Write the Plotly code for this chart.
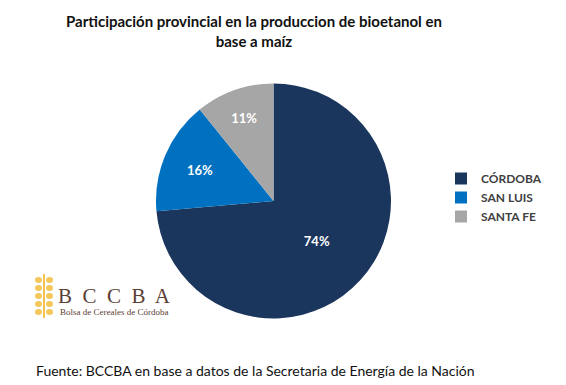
import plotly.graph_objects as go

provinces = ["CÓRDOBA", "SAN LUIS", "SANTA FE"]
shares = [73.6, 15.6, 10.8]
colors = ["#1B365D", "#0070C0", "#A6A6A6"]

title_text = "<b>Participación provincial en la produccion de bioetanol en<br>base a maíz</b>"
source_text = "Fuente: BCCBA en base a datos de la Secretaria de Energía de la Nación"

W, H = 566, 385
cx, cy, r = 273.5, 201, 117.5

fig = go.Figure(go.Pie(
    labels=provinces,
    values=shares,
    sort=False,
    direction="clockwise",
    rotation=0,
    marker=dict(colors=colors, line=dict(width=0)),
    texttemplate="%{percent:.0%}",
    textposition="inside",
    insidetextfont=dict(color="white", size=13, family="Lato", weight="bold"),
    insidetextorientation="horizontal",
    hoverinfo="label+percent",
    domain=dict(x=[(cx - r) / W, (cx + r) / W], y=[1 - (cy + r) / H, 1 - (cy - r) / H]),
))

fig.update_layout(
    width=W, height=H,
    margin=dict(l=0, r=0, t=0, b=0),
    paper_bgcolor="white",
    plot_bgcolor="white",
    font=dict(family="Lato", color="#262626"),
    legend=dict(x=441 / W, y=1 - 164 / H, xanchor="left", yanchor="top",
                font=dict(size=12, family="Lato", color="#404040", weight="bold"),
                itemwidth=30, bgcolor="rgba(0,0,0,0)"),
    annotations=[
        dict(text=title_text, x=254 / W, y=1 - 31 / H, xref="paper", yref="paper",
             xanchor="center", yanchor="middle", showarrow=False,
             font=dict(size=15, family="Lato", color="#111111", weight="bold")),
        dict(text=source_text, x=255 / W, y=1 - 370 / H, xref="paper", yref="paper",
             xanchor="center", yanchor="middle", showarrow=False,
             font=dict(size=14, family="Lato", color="#111111")),
        dict(text="B  C  C  B  A", x=114 / W, y=1 - 296 / H, xref="paper", yref="paper",
             xanchor="center", yanchor="middle", showarrow=False,
             font=dict(size=21, family="Liberation Serif", color="#5C4033")),
        dict(text="Bolsa de Cereales de Córdoba", x=114 / W, y=1 - 312 / H, xref="paper", yref="paper",
             xanchor="center", yanchor="middle", showarrow=False,
             font=dict(size=9, family="Liberation Serif", color="#5C4033")),
    ],
)

# simple wheat emblem
shapes = [dict(type="line", xref="paper", yref="paper",
               x0=44 / W, x1=44 / W, y0=1 - 318 / H, y1=1 - 274 / H,
               line=dict(color="#F2C14E", width=2))]
for i in range(5):
    yy = 280 + i * 8
    for side in (-1, 1):
        x0 = 44 + side * 2
        x1 = 44 + side * 9
        shapes.append(dict(type="circle", xref="paper", yref="paper",
                           x0=min(x0, x1) / W, x1=max(x0, x1) / W,
                           y0=1 - (yy + 3) / H, y1=1 - (yy - 3) / H,
                           fillcolor="#F5C75A", line=dict(width=0)))
fig.update_layout(shapes=shapes)

fig.write_html(
    "out.html",
    config={"displayModeBar": False},
    post_script="document.body.style.margin='0';document.body.style.padding='0';document.body.style.overflow='hidden';",
)
